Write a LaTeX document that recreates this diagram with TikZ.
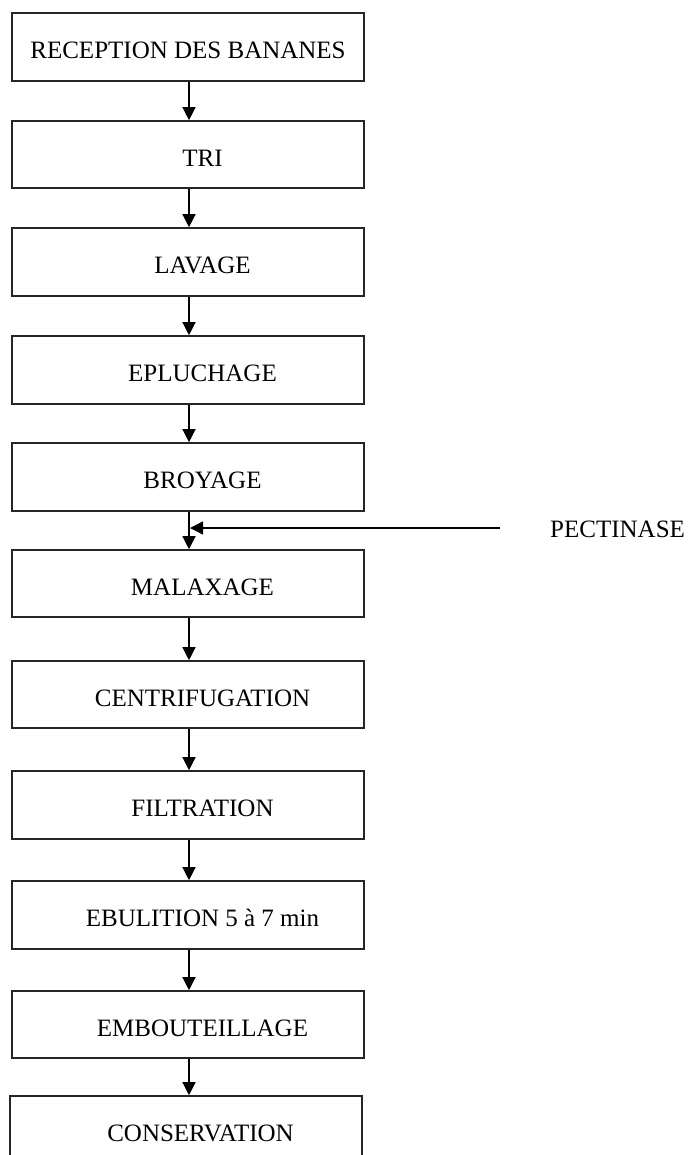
\documentclass[tikz,border=0pt]{standalone}
\usepackage{fontspec}
\setmainfont{Liberation Serif}
\usetikzlibrary{arrows.meta}
\begin{document}
\begin{tikzpicture}[x=1pt,y=-1pt,
  stepbox/.style={draw=black!85, line width=1.6pt, rectangle, minimum width=352pt,
    inner sep=0pt, text height=23.5pt, text depth=0pt,
    font=\fontsize{25}{30}\selectfont},
  arr/.style={draw=black, line width=1.3pt, -{Triangle[length=13pt,width=13pt]}},
  lbl/.style={inner sep=0pt, font=\fontsize{25}{30}\selectfont}]
\useasboundingbox (0,0) rectangle (689,1155);
\clip (0,0) rectangle (689,1155);
\fill[white] (0,0) rectangle (689,1155);
\node[stepbox, minimum height=68pt] (b1) at (188,47) {RECEPTION DES BANANES};
\node[stepbox, minimum height=67pt] (b2) at (188,154.5) {\hspace*{29pt}TRI};
\node[stepbox, minimum height=68pt] (b3) at (188,262) {\hspace*{29pt}LAVAGE};
\node[stepbox, minimum height=68pt] (b4) at (188,370) {\hspace*{29pt}EPLUCHAGE};
\node[stepbox, minimum height=68pt] (b5) at (188,477) {\hspace*{29pt}BROYAGE};
\node[stepbox, minimum height=67pt] (b6) at (188,583.5) {\hspace*{29pt}MALAXAGE};
\node[stepbox, minimum height=67pt] (b7) at (188,694.5) {\hspace*{29pt}CENTRIFUGATION};
\node[stepbox, minimum height=68pt] (b8) at (188,805) {\hspace*{29pt}FILTRATION};
\node[stepbox, minimum height=68pt] (b9) at (188,915) {\hspace*{29pt}EBULITION 5 à 7 min};
\node[stepbox, minimum height=67pt] (b10) at (188,1024.5) {\hspace*{29pt}EMBOUTEILLAGE};
\node[stepbox, minimum height=68pt] (b11) at (186,1130) {\hspace*{29pt}CONSERVATION};
\node[lbl, anchor=base west] (pect) at (550,537) {PECTINASE};
\coordinate (pstart) at (500,528);
\coordinate (pend) at (190,528);
\foreach \a/\b in {b1/b2,b2/b3,b3/b4,b4/b5,b5/b6,b6/b7,b7/b8,b8/b9,b9/b10,b10/b11}
  \draw[arr] ([xshift=1pt]\a.south) -- ([xshift=1pt]\a.south |- \b.north);
\draw[arr] (pstart) -- (pend);
\end{tikzpicture}
\end{document}
